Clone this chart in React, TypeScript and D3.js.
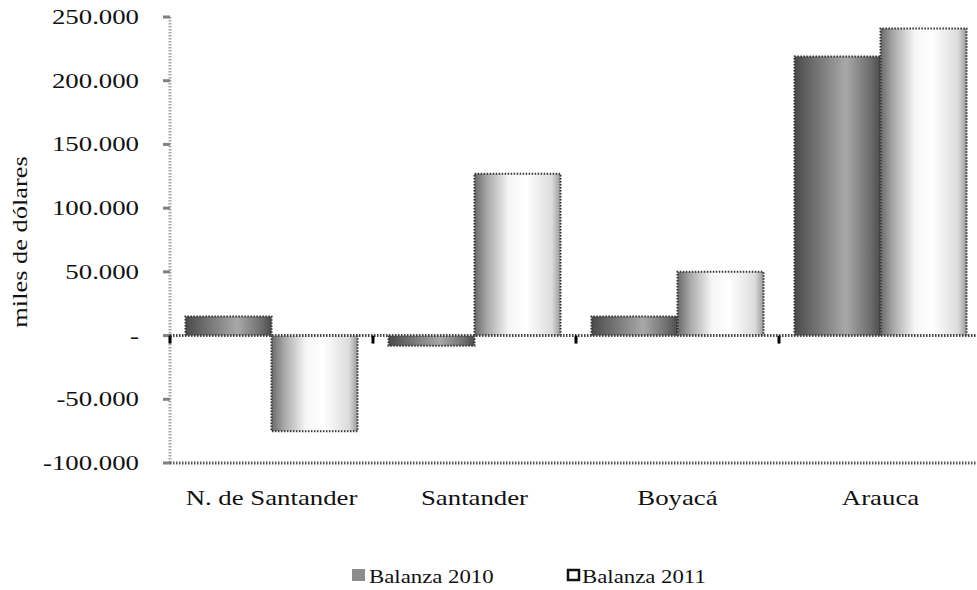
import React from "react";
import * as d3 from "d3";

const categories = ["N. de Santander", "Santander", "Boyacá", "Arauca"];
const series = ["Balanza 2010", "Balanza 2011"];
const balanza2010 = [15000, -8000, 15000, 219000];
const balanza2011 = [-75000, 127000, 50000, 241000];
const yTicks = [-100000, -50000, 0, 50000, 100000, 150000, 200000, 250000];

const W = 977;
const H = 590;
const left = 170;
const right = 982;
const top = 17;
const bottom = 463;
const FONT = "Liberation Serif";

const fmt = (v: number) =>
  v === 0 ? "-" : (v < 0 ? "-" : "") + d3.format(",")(Math.abs(v)).replace(/,/g, ".");

function StretchText({ x, y, anchor = "start", children, rotate = 0, sx = 1.34, size = 20 }: any) {
  return (
    <text
      transform={`translate(${x},${y}) rotate(${rotate}) scale(${sx},1)`}
      textAnchor={anchor}
      style={{ fontFamily: FONT, fontSize: `${size}px` }}
      fill="#111"
    >
      {children}
    </text>
  );
}

export default function App() {
  const y = d3.scaleLinear().domain([-100000, 250000]).range([bottom, top]);
  const x0 = d3.scaleBand<string>().domain(categories).range([left, right]);
  const x1 = d3
    .scaleBand<string>()
    .domain(series)
    .range([0, x0.bandwidth()])
    .paddingInner(0)
    .paddingOuter(0.18);
  const data = [balanza2010, balanza2011];
  const zero = y(0);

  return (
    <svg width={W} height={H} style={{ position: "absolute", left: 0, top: 0, background: "#fff" }}>
      <defs>
        <linearGradient id="g2010" x1="0" x2="1" y1="0" y2="0">
          <stop offset="0" stopColor="#4a4a4a" />
          <stop offset="0.2" stopColor="#6a6a6a" />
          <stop offset="0.6" stopColor="#a8a8a8" />
          <stop offset="0.88" stopColor="#6e6e6e" />
          <stop offset="1" stopColor="#4c4c4c" />
        </linearGradient>
        <linearGradient id="g2011" x1="0" x2="1" y1="0" y2="0">
          <stop offset="0" stopColor="#6a6a6a" />
          <stop offset="0.15" stopColor="#a9a9a9" />
          <stop offset="0.4" stopColor="#f6f6f6" />
          <stop offset="0.6" stopColor="#ffffff" />
          <stop offset="0.9" stopColor="#dcdcdc" />
          <stop offset="1" stopColor="#9a9a9a" />
        </linearGradient>
      </defs>

      {/* y axis */}
      <line x1={left} x2={left} y1={top} y2={bottom} stroke="#a8a8a8" strokeWidth={3} strokeDasharray="1.5,1.5" />
      {yTicks.map((t) => (
        <g key={t}>
          <line x1={left - 7} x2={left} y1={y(t)} y2={y(t)} stroke="#808080" strokeWidth={3} />
          <StretchText x={139} y={y(t) + 7} anchor="end">
            {fmt(t)}
          </StretchText>
        </g>
      ))}

      {/* bars */}
      {categories.map((c, i) =>
        series.map((s, j) => {
          const v = data[j][i];
          const bx = (x0(c) as number) + (x1(s) as number);
          const bw = x1.bandwidth();
          const y0 = Math.min(y(v), zero);
          const h = Math.abs(y(v) - zero);
          const outer = y(v);
          return (
            <g key={c + s}>
              <rect x={bx} y={y0} width={bw} height={h} fill={j === 0 ? "url(#g2010)" : "url(#g2011)"} />
              <path
                d={`M${bx},${zero} L${bx},${outer} L${bx + bw},${outer} L${bx + bw},${zero}`}
                fill="none"
                stroke="#333"
                strokeWidth={2}
                strokeDasharray="1.5,1.5"
              />
            </g>
          );
        })
      )}

      {/* zero line and bottom line */}
      <line x1={left} x2={right} y1={zero} y2={zero} stroke="#444" strokeWidth={3} strokeDasharray="1.5,1.5" />
      <line x1={left} x2={right} y1={bottom} y2={bottom} stroke="#555" strokeWidth={3} strokeDasharray="1.5,1.5" />
      {categories.map((c) => (
        <line key={c} x1={x0(c) as number} x2={x0(c) as number} y1={zero} y2={zero + 8} stroke="#000" strokeWidth={3} />
      ))}

      {/* category labels */}
      {categories.map((c) => (
        <StretchText key={c} x={(x0(c) as number) + x0.bandwidth() / 2} y={505} anchor="middle">
          {c}
        </StretchText>
      ))}

      {/* y axis title */}
      <StretchText x={27} y={242} anchor="middle" rotate={-90} sx={1.32}>
        miles de dólares
      </StretchText>

      {/* legend */}
      <rect x={352} y={569} width={13} height={12} fill="#8c8c8c" />
      <StretchText x={369} y={583} sx={1.2} size={19}>{series[0]}</StretchText>
      <rect x={568} y={570} width={11} height={10} fill="#fff" stroke="#111" strokeWidth={2.5} />
      <StretchText x={582} y={583} sx={1.2} size={19}>{series[1]}</StretchText>
    </svg>
  );
}
